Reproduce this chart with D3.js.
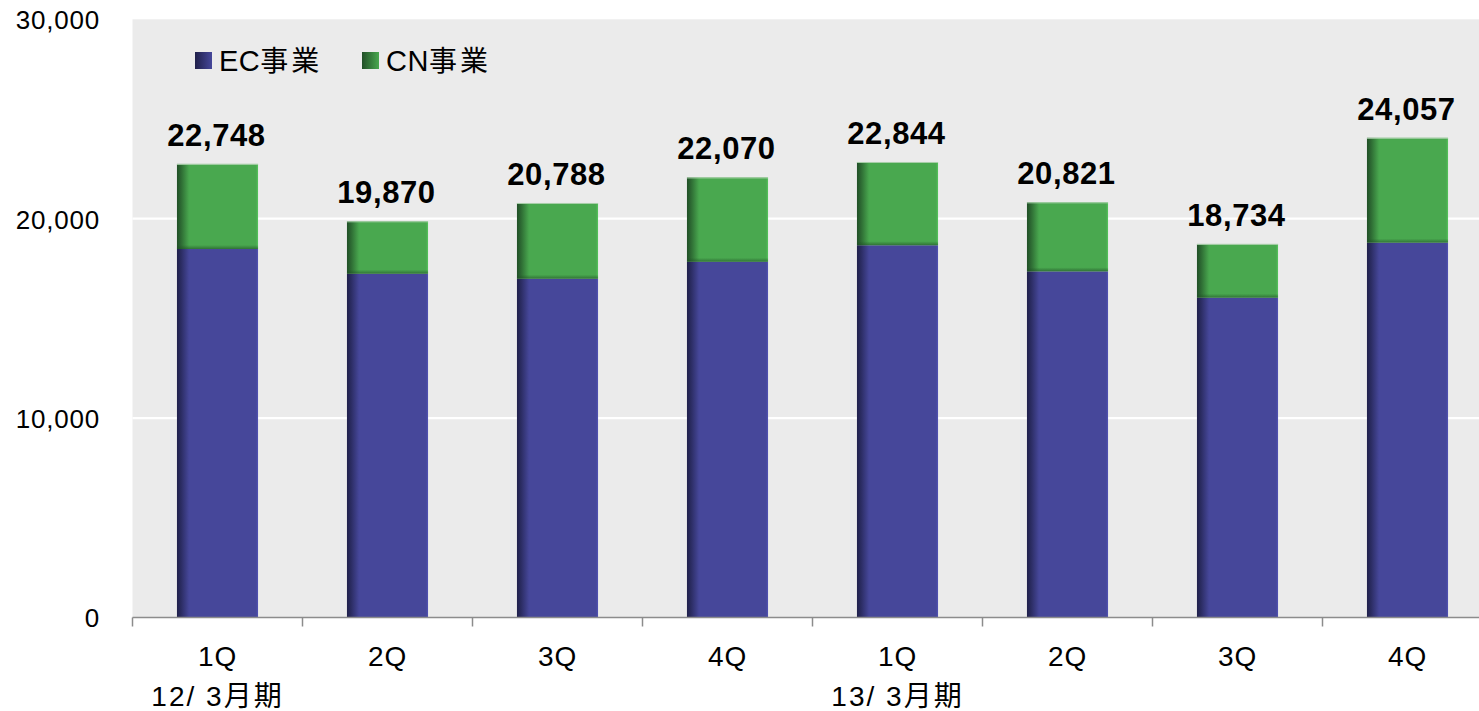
<!DOCTYPE html>
<html>
<head>
<meta charset="utf-8">
<script src="https://cdn.jsdelivr.net/npm/d3@7"></script>
<style>
  html, body { margin: 0; padding: 0; background: #ffffff; }
  svg { display: block; }
  text { font-family: "Liberation Sans", Arial, "Noto Sans CJK JP", sans-serif; fill: #000; }
</style>
</head>
<body>
<svg id="chart" width="1479" height="711"></svg>
<script>
// Quarterly sales by segment (stacked)
const quarters = ["1Q", "2Q", "3Q", "4Q", "1Q", "2Q", "3Q", "4Q"];
const fiscalPeriods = ["12/ 3月期", "", "", "", "13/ 3月期", "", "", ""];
const ecValues = [18480, 17240, 16990, 17840, 18670, 17360, 16040, 18800];
const cnValues = [4268, 2630, 3798, 4230, 4174, 3461, 2694, 5257];
const yTicks = [0, 10000, 20000, 30000];
const seriesNames = ["EC事業", "CN事業"];
const seriesColors = ["#46479a", "#49a84f"];
const seriesShadow = ["#20204a", "#214f27"];

const W = 1479, H = 711;
const plot = { left: 132.5, top: 19.3, bottom: 617.5, step: 170 };

const svg = d3.select("#chart");
const defs = svg.append("defs");

// horizontal shading on each bar: dark left edge fading into the fill
seriesColors.forEach((c, i) => {
  const g = defs.append("linearGradient").attr("id", "bar" + i)
    .attr("x1", "0%").attr("x2", "100%").attr("y1", "0%").attr("y2", "0%");
  g.append("stop").attr("offset", "0%").attr("stop-color", seriesShadow[i]);
  g.append("stop").attr("offset", "5%").attr("stop-color", d3.interpolateRgb(seriesShadow[i], c)(0.3));
  g.append("stop").attr("offset", "15%").attr("stop-color", c);
  g.append("stop").attr("offset", "97.5%").attr("stop-color", c);
  g.append("stop").attr("offset", "100%").attr("stop-color", d3.color(c).brighter(0.45));
  const lg = defs.append("linearGradient").attr("id", "leg" + i)
    .attr("x1", "0%").attr("x2", "100%").attr("y1", "0%").attr("y2", "0%");
  lg.append("stop").attr("offset", "0%").attr("stop-color", seriesShadow[i]);
  lg.append("stop").attr("offset", "100%").attr("stop-color", c);
});
// soft shadow fading downward at the bottom of the green segment
const sh = defs.append("linearGradient").attr("id", "segShadow")
  .attr("x1", "0%").attr("x2", "0%").attr("y1", "0%").attr("y2", "100%");
sh.append("stop").attr("offset", "0%").attr("stop-color", "#1f4f25").attr("stop-opacity", 0);
sh.append("stop").attr("offset", "100%").attr("stop-color", "#1f4f25").attr("stop-opacity", 0.6);

const x = d3.scaleBand()
  .domain(d3.range(quarters.length))
  .range([plot.left, plot.left + plot.step * quarters.length])
  .paddingInner(0).paddingOuter(0);
const barW = x.bandwidth() * 0.477;

const y = d3.scaleLinear().domain([0, 30000]).range([plot.bottom, plot.top]);

// plot background
svg.append("rect")
  .attr("x", plot.left).attr("y", plot.top)
  .attr("width", W - plot.left).attr("height", plot.bottom - plot.top)
  .attr("fill", "#ebebeb");

// horizontal gridlines
svg.append("g")
  .selectAll("line")
  .data(yTicks.filter(t => t > 0 && t < 30000))
  .join("line")
  .attr("x1", plot.left).attr("x2", W)
  .attr("y1", d => y(d)).attr("y2", d => y(d))
  .attr("stroke", "#ffffff").attr("stroke-width", 2.2);

// y axis labels
const yAxis = d3.axisLeft(y).tickValues(yTicks).tickSize(0).tickPadding(0)
  .tickFormat(d3.format(","));
svg.append("g")
  .attr("transform", `translate(100,0)`)
  .call(yAxis)
  .call(g => g.select(".domain").remove())
  .call(g => g.selectAll("text")
    .attr("font-size", 26).attr("letter-spacing", 0.8)
    .attr("dy", "0.36em").attr("fill", "#000"));

// stacked bars
const stackData = quarters.map((q, i) => ({ i, ec: ecValues[i], cn: cnValues[i] }));
const stack = d3.stack().keys(["ec", "cn"])(stackData);

const barsG = svg.append("g");
stack.forEach((layer, si) => {
  barsG.append("g").selectAll("rect")
    .data(layer)
    .join("rect")
    .attr("x", d => x(d.data.i) + (x.bandwidth() - barW) / 2)
    .attr("width", barW)
    .attr("y", d => y(d[1]))
    .attr("height", d => y(d[0]) - y(d[1]))
    .attr("fill", `url(#bar${si})`);
});

// darker band at the bottom of the green segment
barsG.append("g").selectAll("rect")
  .data(stack[1])
  .join("rect")
  .attr("x", d => x(d.data.i) + (x.bandwidth() - barW) / 2)
  .attr("width", barW)
  .attr("y", d => y(d[0]) - 4)
  .attr("height", 4)
  .attr("fill", "url(#segShadow)");

// light top edge of each bar
barsG.append("g").selectAll("line")
  .data(stack[1])
  .join("line")
  .attr("x1", d => x(d.data.i) + (x.bandwidth() - barW) / 2)
  .attr("x2", d => x(d.data.i) + (x.bandwidth() + barW) / 2)
  .attr("y1", d => y(d[1]) + 0.5).attr("y2", d => y(d[1]) + 0.5)
  .attr("stroke", "#a8cfa9").attr("stroke-width", 1);

// total value labels
svg.append("g").selectAll("text")
  .data(stack[1])
  .join("text")
  .attr("x", d => x(d.data.i) + x.bandwidth() / 2 - 1)
  .attr("y", d => y(d[1]) - 18)
  .attr("text-anchor", "middle")
  .attr("font-size", 31).attr("font-weight", "bold")
  .attr("letter-spacing", 0.6)
  .text(d => d3.format(",")(d[1]));

// x axis: baseline and band separator ticks
const xAxisG = svg.append("g");
xAxisG.append("line")
  .attr("x1", plot.left).attr("x2", W)
  .attr("y1", plot.bottom).attr("y2", plot.bottom)
  .attr("stroke", "#8c8c8c").attr("stroke-width", 1.5);
xAxisG.selectAll("line.tk")
  .data(d3.range(quarters.length + 1))
  .join("line").attr("class", "tk")
  .attr("x1", i => plot.left + i * x.step()).attr("x2", i => plot.left + i * x.step())
  .attr("y1", plot.bottom).attr("y2", plot.bottom + 9)
  .attr("stroke", "#8c8c8c").attr("stroke-width", 1.5);

xAxisG.selectAll("text.q")
  .data(quarters)
  .join("text").attr("class", "q")
  .attr("x", (d, i) => x(i) + x.bandwidth() / 2)
  .attr("y", 666)
  .attr("text-anchor", "middle")
  .attr("font-size", 28).attr("letter-spacing", 0.8)
  .text(d => d);

xAxisG.selectAll("text.p")
  .data(fiscalPeriods.map((p, i) => ({ p, i })).filter(d => d.p))
  .join("text").attr("class", "p")
  .attr("x", d => x(d.i) + x.bandwidth() / 2)
  .attr("y", 706)
  .attr("text-anchor", "middle")
  .attr("font-size", 28).attr("letter-spacing", 2)
  .text(d => d.p);

// legend: Latin prefix set tight, the kanji spaced out
const legendX = [195, 362];
const legend = svg.append("g");
seriesNames.forEach((name, i) => {
  legend.append("rect")
    .attr("x", legendX[i]).attr("y", 52)
    .attr("width", 17).attr("height", 17)
    .attr("fill", `url(#leg${i})`);
  const t = legend.append("text")
    .attr("x", legendX[i] + 24).attr("y", 71)
    .attr("font-size", 29);
  const m = name.match(/^([A-Za-z]+)(.*)$/);
  t.append("tspan").attr("letter-spacing", 0.5).text(m[1]);
  t.append("tspan").attr("font-size", 28).attr("letter-spacing", 3).text(m[2]);
});
</script>
</body>
</html>
